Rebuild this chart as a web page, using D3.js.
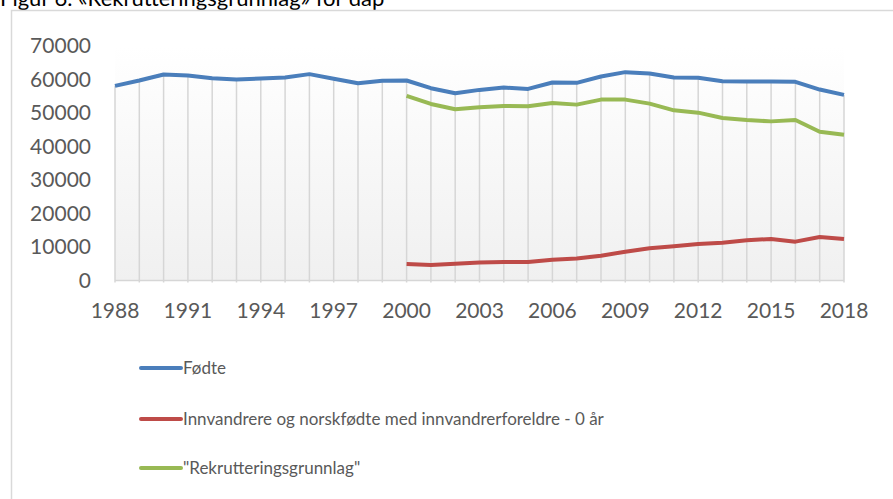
<!DOCTYPE html>
<html>
<head>
<meta charset="utf-8">
<script src="https://cdn.jsdelivr.net/npm/d3@7"></script>
<style>
  body { margin: 0; background: #fff; }
  text { font-family: Lato, "Open Sans", sans-serif; fill: #595959; }
</style>
</head>
<body>
<svg></svg>
<script>
// years on the x axis
var years = d3.range(1988, 2019);
var yTicks = [0, 10000, 20000, 30000, 40000, 50000, 60000, 70000];
var xTicks = [1988, 1991, 1994, 1997, 2000, 2003, 2006, 2009, 2012, 2015, 2018];

// Fødte 1988-2018
var fodte = [58100, 59700, 61500, 61200, 60400, 60000, 60300, 60600, 61600, 60200,
             58900, 59600, 59700, 57400, 55900, 56900, 57600, 57200, 59100, 59000,
             60900, 62200, 61800, 60600, 60500, 59500, 59400, 59400, 59300, 57000, 55400];

// 2000-2018
var innvYears = d3.range(2000, 2019);
var innv = [4900, 4600, 5000, 5400, 5500, 5500, 6200, 6600, 7400, 8600,
            9600, 10200, 10900, 11300, 12000, 12400, 11600, 13000, 12400];
var rekr = [55100, 52700, 51100, 51700, 52100, 52000, 53000, 52500, 54000, 54000,
            52800, 50800, 50100, 48500, 47900, 47500, 47900, 44400, 43500];

var seriesNames = ["Fødte", "Innvandrere og norskfødte med innvandrerforeldre - 0 år", "\"Rekrutteringsgrunnlag\""];
var colors = ["#4a7ebb", "#be4b48", "#98b954"];

var w = 893, h = 499;
var svg = d3.select("svg").attr("width", w).attr("height", h);

var x = d3.scaleLinear().domain([1988, 2018]).range([115, 844]);
var y = d3.scaleLinear().domain([0, 70000]).range([280.5, 46]);

// title (cut off at the top like the original)
svg.append("text")
    .attr("x", 0).attr("y", 6)
    .style("font-size", "22px")
    .style("fill", "#000")
    .text("Figur 6. «Rekrutteringsgrunnlag» for dåp");

// chart border
svg.append("rect")
    .attr("x", 11.5).attr("y", 10.5)
    .attr("width", 900).attr("height", 520)
    .attr("fill", "none")
    .attr("stroke", "#d9d9d9")
    .attr("stroke-width", 1.5);

// plot area gradient
var grad = svg.append("defs").append("linearGradient")
    .attr("id", "bg").attr("x1", 0).attr("y1", 0).attr("x2", 0).attr("y2", 1);
grad.append("stop").attr("offset", "0%").attr("stop-color", "#ffffff");
grad.append("stop").attr("offset", "100%").attr("stop-color", "#f0f0f0");

svg.append("rect")
    .attr("x", x(1988)).attr("y", y(70000))
    .attr("width", x(2018) - x(1988)).attr("height", y(0) - y(70000))
    .attr("fill", "url(#bg)");

// drop lines
svg.selectAll(".drop")
    .data(years)
    .enter()
    .append("line")
    .attr("class", "drop")
    .attr("x1", function (d) { return x(d); })
    .attr("x2", function (d) { return x(d); })
    .attr("y1", function (d, i) { return y(fodte[i]); })
    .attr("y2", y(0) + 2)
    .attr("stroke", "#d6d6d6")
    .attr("stroke-width", 1.5);

// x axis line
svg.append("line")
    .attr("x1", x(1988)).attr("x2", x(2018))
    .attr("y1", y(0)).attr("y2", y(0))
    .attr("stroke", "#d6d6d6")
    .attr("stroke-width", 1.5);

// y labels
svg.selectAll(".ylab")
    .data(yTicks)
    .enter()
    .append("text")
    .attr("class", "ylab")
    .attr("x", 91)
    .attr("y", function (d) { return y(d); })
    .attr("dy", "0.35em")
    .attr("text-anchor", "end")
    .style("font-size", "21px")
    .text(function (d) { return d; });

// x labels
svg.selectAll(".xlab")
    .data(xTicks)
    .enter()
    .append("text")
    .attr("class", "xlab")
    .attr("x", function (d) { return x(d); })
    .attr("y", 318)
    .attr("text-anchor", "middle")
    .style("font-size", "21px")
    .text(function (d) { return d; });

// series
var line = d3.line()
    .x(function (d) { return x(d[0]); })
    .y(function (d) { return y(d[1]); });

var data = [
    d3.zip(years, fodte),
    d3.zip(innvYears, innv),
    d3.zip(innvYears, rekr)
];

svg.selectAll(".series")
    .data(data)
    .enter()
    .append("path")
    .attr("class", "series")
    .attr("d", line)
    .attr("fill", "none")
    .attr("stroke", function (d, i) { return colors[i]; })
    .attr("stroke-width", 4)
    .attr("stroke-linejoin", "round");

// legend
var legY = [368, 419, 468];
var leg = svg.selectAll(".leg")
    .data(seriesNames)
    .enter()
    .append("g")
    .attr("class", "leg")
    .attr("transform", function (d, i) { return "translate(0," + legY[i] + ")"; });

leg.append("line")
    .attr("x1", 141).attr("x2", 181)
    .attr("stroke", function (d, i) { return colors[i]; })
    .attr("stroke-width", 4)
    .attr("stroke-linecap", "round");

leg.append("text")
    .attr("x", 183)
    .attr("dy", "0.35em")
    .style("font-size", "17px")
    .text(function (d) { return d; });
</script>
</body>
</html>
